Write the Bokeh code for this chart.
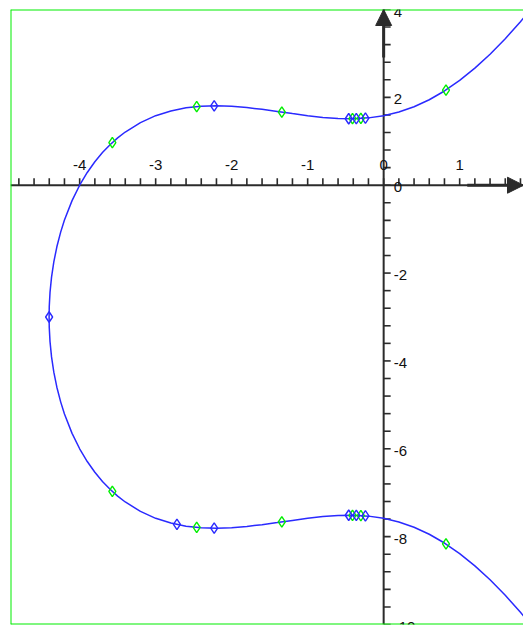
import numpy as np
from bokeh.plotting import figure
from bokeh.models import ColumnDataSource, Range1d, Span, Arrow, NormalHead, LabelSet
from bokeh.core.properties import value
from bokeh.embed import file_html
from bokeh.resources import INLINE

# Curve (y + 3)^2 = x^3 + 4x^2 + 3x + 21, sampled points, left to right
branch_x = [-4.402, -4.40, -4.39, -4.37, -4.34, -4.30, -4.25, -4.2, -4.1, -4.0,
            -3.9, -3.8, -3.7, -3.6, -3.5, -3.4, -3.2, -3.0, -2.8, -2.6,
            -2.4, -2.2, -2.0, -1.8, -1.6, -1.4, -1.2, -1.0, -0.8, -0.6,
            -0.4, -0.2, 0.0, 0.2, 0.4, 0.6, 0.8, 1.0, 1.2, 1.4,
            1.6, 1.8, 1.9]
upper_y = [-3.000, -2.761, -2.440, -2.092, -1.745, -1.402, -1.068, -0.793, -0.351, 0.000,
           0.290, 0.534, 0.743, 0.922, 1.077, 1.211, 1.426, 1.583, 1.691, 1.761,
           1.798, 1.808, 1.796, 1.767, 1.727, 1.679, 1.630, 1.583, 1.544, 1.519,
           1.514, 1.533, 1.583, 1.666, 1.786, 1.945, 2.145, 2.385, 2.665, 2.982,
           3.335, 3.723, 3.928]
lower_y = [-3.000, -3.239, -3.560, -3.908, -4.255, -4.598, -4.932, -5.207, -5.649, -6.000,
           -6.290, -6.534, -6.743, -6.922, -7.077, -7.211, -7.426, -7.583, -7.691, -7.761,
           -7.798, -7.808, -7.796, -7.767, -7.727, -7.679, -7.630, -7.583, -7.544, -7.519,
           -7.514, -7.533, -7.583, -7.666, -7.786, -7.945, -8.145, -8.385, -8.665, -8.982,
           -9.335, -9.723, -9.928]

# Marked points on the curve
green_x = [-3.57, -2.46, -1.34, -0.41, -0.30, 0.82]
green_upper_y = [0.971, 1.790, 1.664, 1.514, 1.520, 2.167]
green_lower_y = [-6.971, -7.790, -7.664, -7.514, -7.520, -8.167]

blue_upper_x = [-2.23, -0.46, -0.36, -0.24]
blue_upper_y = [1.808, 1.513, 1.516, 1.527]
blue_lower_x = [-4.402, -2.72, -2.23, -0.46, -0.36, -0.24]
blue_lower_y = [-3.000, -7.723, -7.808, -7.513, -7.516, -7.527]

x_tick_labels = [-4, -3, -2, -1, 0, 1]
y_tick_labels = [-10, -8, -6, -4, -2, 0, 2, 4]

X_MIN, X_MAX = -4.91, 1.84
Y_MIN, Y_MAX = -10, 4
W, H = 523, 633
BORDER_L, BORDER_T, BORDER_B = 10, 9, 9

GREEN = "#00ee00"
BLUE = "#2a2aff"
AXIS = "#2b2b2b"
FONT = value("Liberation Sans")

p = figure(width=W, height=H,
           x_range=Range1d(X_MIN, X_MAX), y_range=Range1d(Y_MIN, Y_MAX),
           x_axis_type=None, y_axis_type=None,
           output_backend="svg", toolbar_location=None,
           min_border_left=BORDER_L, min_border_right=0,
           min_border_top=BORDER_T, min_border_bottom=BORDER_B)
p.outline_line_color = None
p.background_fill_color = "white"
p.border_fill_color = "white"

# green frame on left, top and bottom
for loc, dim in [(X_MIN, "height"), (Y_MAX, "width"), (Y_MIN, "width")]:
    p.add_layout(Span(location=loc, dimension=dim, line_color=GREEN, line_width=2))

# data units per screen pixel, for tick lengths
frame_w = W - BORDER_L
frame_h = H - BORDER_T - BORDER_B
ux = (X_MAX - X_MIN) / frame_w
uy = (Y_MAX - Y_MIN) / frame_h

# axes through the origin
p.segment(x0=[X_MIN], y0=[0], x1=[X_MAX], y1=[0], line_color=AXIS, line_width=2)
p.segment(x0=[0], y0=[Y_MIN], x1=[0], y1=[Y_MAX], line_color=AXIS, line_width=2)

x_ticks = np.round(np.arange(-4.8, 1.81, 0.2), 2)
y_ticks = np.round(np.arange(-10, 4.01, 0.4), 2)
p.segment(x0=x_ticks, y0=np.zeros_like(x_ticks), x1=x_ticks, y1=np.full_like(x_ticks, 7 * uy),
          line_color=AXIS, line_width=1.6)
p.segment(x0=np.zeros_like(y_ticks), y0=y_ticks, x1=np.full_like(y_ticks, 7 * ux), y1=y_ticks,
          line_color=AXIS, line_width=1.6)

p.add_layout(Arrow(end=NormalHead(size=16, fill_color=AXIS, line_color=AXIS),
                   x_start=1.10, y_start=0, x_end=X_MAX, y_end=0,
                   line_color=AXIS, line_width=3))
p.add_layout(Arrow(end=NormalHead(size=16, fill_color=AXIS, line_color=AXIS),
                   x_start=0, y_start=2.91, x_end=0, y_end=Y_MAX,
                   line_color=AXIS, line_width=3))

# tick labels
xl = ColumnDataSource(dict(x=x_tick_labels, y=[0] * len(x_tick_labels),
                           t=[str(v) for v in x_tick_labels]))
yl = ColumnDataSource(dict(x=[0] * len(y_tick_labels), y=y_tick_labels,
                           t=[str(v) for v in y_tick_labels]))
p.add_layout(LabelSet(x="x", y="y", text="t", source=xl, text_align="center",
                      text_baseline="alphabetic", y_offset=15, text_font=FONT,
                      text_font_size="15px", text_color="#111111"))
p.add_layout(LabelSet(x="x", y="y", text="t", source=yl, text_align="left",
                      text_baseline="alphabetic", x_offset=10, y_offset=-7, text_font=FONT,
                      text_font_size="15px", text_color="#111111"))

# the curve: lower branch right-to-left, then upper branch left-to-right
curve_x = branch_x[::-1] + branch_x
curve_y = lower_y[::-1] + upper_y
p.line(curve_x, curve_y, line_color=BLUE, line_width=1.5)

p.scatter(green_x + green_x, green_upper_y + green_lower_y, marker="diamond", size=10.5,
          fill_color=None, line_color=GREEN, line_width=1.4)
p.scatter(blue_upper_x + blue_lower_x, blue_upper_y + blue_lower_y, marker="diamond", size=10.5,
          fill_color=None, line_color=BLUE, line_width=1.4)

open("out.html", "w").write(file_html(p, INLINE))
